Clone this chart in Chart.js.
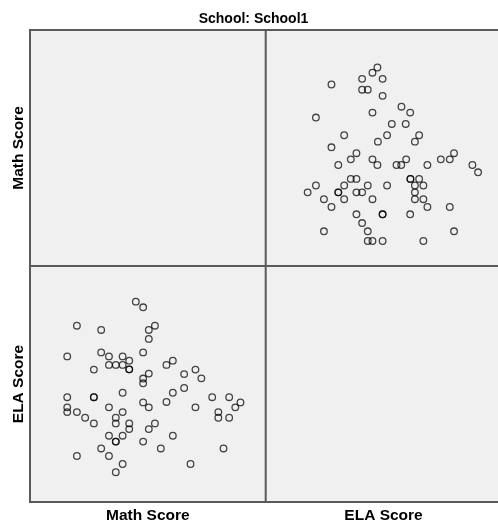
<!DOCTYPE html>
<html>
<head>
<meta charset="utf-8">
<title>School1 scatterplot matrix</title>
<script src="https://cdn.jsdelivr.net/npm/chart.js@4/dist/chart.umd.min.js"></script>
<style>
    html, body { margin: 0; padding: 0; background: #fff; overflow: hidden; }
    #wrap { width: 506px; height: 523px; }
</style>
</head>
<body>
<div id="wrap"><canvas id="chart" width="506" height="523"></canvas></div>
<script>
const chartTitle = 'School: School1';
const variableNames = ['Math Score', 'ELA Score'];

const mathScores = [
    44.9, 48.0, 19.9, 30.2, 53.0, 50.4, 50.4, 15.8, 30.2, 33.5,
    39.3, 42.1, 48.0, 33.5, 36.4, 39.3, 42.1, 42.1, 27.1, 60.6,
    57.9, 50.4, 48.0, 48.0, 65.4, 70.2, 72.7, 65.4, 60.6, 39.3,
    15.8, 27.1, 27.1, 33.5, 15.8, 15.8, 19.9, 23.4, 27.1, 39.3,
    36.4, 36.4, 42.1, 42.1, 48.0, 50.4, 57.9, 70.2, 77.3, 84.5,
    89.3, 87.1, 79.9, 79.9, 84.5, 53.0, 50.4, 60.6, 33.5, 39.3,
    36.4, 36.4, 48.0, 30.2, 33.5, 19.9, 55.5, 82.1, 39.3, 36.4,
    68.1
];
const elaScores = [
    84.9, 82.5, 74.7, 72.9, 74.7, 72.9, 69.1, 61.7, 63.4, 61.7,
    61.7, 59.9, 63.4, 58.1, 58.1, 58.1, 56.2, 56.2, 56.1, 59.9,
    58.1, 54.4, 52.3, 50.3, 54.2, 56.1, 52.4, 48.3, 46.3, 46.3,
    44.4, 44.4, 44.4, 40.1, 40.1, 38.1, 38.1, 35.7, 33.3, 38.1,
    35.7, 33.3, 33.3, 30.9, 42.2, 40.1, 42.4, 40.1, 44.4, 44.4,
    42.2, 40.1, 38.1, 35.7, 35.7, 33.3, 30.9, 28.1, 28.1, 28.1,
    25.6, 25.6, 25.6, 22.7, 19.5, 19.5, 22.7, 22.7, 16.1, 12.6,
    16.1
];

// axis ranges per cell (min, max)
const mathRangeX = [0, 100];
const elaRangeY = [0, 100];
const elaRangeX = [-5.2, 94.8];
const mathRangeY = [5.2, 105.2];

document.addEventListener('DOMContentLoaded', () => {
    const ctx = document.getElementById('chart').getContext('2d');

    const lowerLeft = mathScores.map((m, i) => ({ x: m, y: elaScores[i] }));
    const upperRight = mathScores.map((m, i) => ({ x: elaScores[i], y: m }));

    // grey panels, outer frame and the cell dividers
    const matrixFrame = {
        id: 'matrixFrame',
        beforeDatasetsDraw(chart) {
            const { ctx, chartArea: a, scales } = chart;
            ctx.save();
            ctx.fillStyle = '#f0f0f0';
            ctx.fillRect(a.left, a.top, a.right - a.left, a.bottom - a.top);
            ctx.strokeStyle = '#5a5a5a';
            ctx.lineWidth = 2;
            ctx.strokeRect(a.left, a.top, a.right - a.left, a.bottom - a.top);
            const midX = scales.xL.right;
            const midY = scales.yT.bottom;
            ctx.beginPath();
            ctx.moveTo(midX, a.top);
            ctx.lineTo(midX, a.bottom);
            ctx.moveTo(a.left, midY);
            ctx.lineTo(a.right, midY);
            ctx.stroke();
            ctx.restore();
        }
    };

    const axisTitleFont = { family: '"Liberation Sans", Arial, sans-serif', size: 15.5, weight: 'bold', lineHeight: 1 };

    function axis(position, range, title, weight, titlePadding) {
        return {
            type: 'linear',
            position: position,
            stack: position,
            stackWeight: 1,
            weight: weight,
            min: range[0],
            max: range[1],
            grid: { display: false, drawTicks: false },
            border: { display: false },
            ticks: { display: false },
            title: {
                display: true,
                text: title,
                color: '#000',
                font: axisTitleFont,
                padding: titlePadding
            }
        };
    }

    const pointStyle = {
        showLine: false,
        pointStyle: 'circle',
        pointRadius: 3.3,
        pointHoverRadius: 3.3,
        pointBorderWidth: 1.3,
        pointBorderColor: 'rgba(0, 0, 0, 0.72)',
        pointBackgroundColor: 'rgba(0, 0, 0, 0)'
    };

    new Chart(ctx, {
        type: 'scatter',
        data: {
            datasets: [
                Object.assign({ label: 'ELA vs Math', data: upperRight, xAxisID: 'xR', yAxisID: 'yT' }, pointStyle),
                Object.assign({ label: 'Math vs ELA', data: lowerLeft, xAxisID: 'xL', yAxisID: 'yB' }, pointStyle)
            ]
        },
        options: {
            responsive: false,
            animation: false,
            layout: { padding: { left: 5, right: 4, top: 0, bottom: 0 } },
            plugins: {
                legend: { display: false },
                tooltip: { enabled: false },
                title: {
                    display: true,
                    text: chartTitle,
                    color: '#000',
                    font: { family: '"Liberation Sans", Arial, sans-serif', size: 14, weight: 'bold', lineHeight: 1.2 },
                    padding: { top: 10.8, bottom: 2.4 }
                }
            },
            scales: {
                xL: axis('bottom', mathRangeX, variableNames[0], 1, { top: 5.5, bottom: 0 }),
                xR: axis('bottom', elaRangeX, variableNames[1], 2, { top: 5.5, bottom: 0 }),
                yT: axis('left', mathRangeY, variableNames[0], 2, { top: 5.5, bottom: 4 }),
                yB: axis('left', elaRangeY, variableNames[1], 1, { top: 5.5, bottom: 4 })
            }
        },
        plugins: [matrixFrame]
    });
});
</script>
</body>
</html>
